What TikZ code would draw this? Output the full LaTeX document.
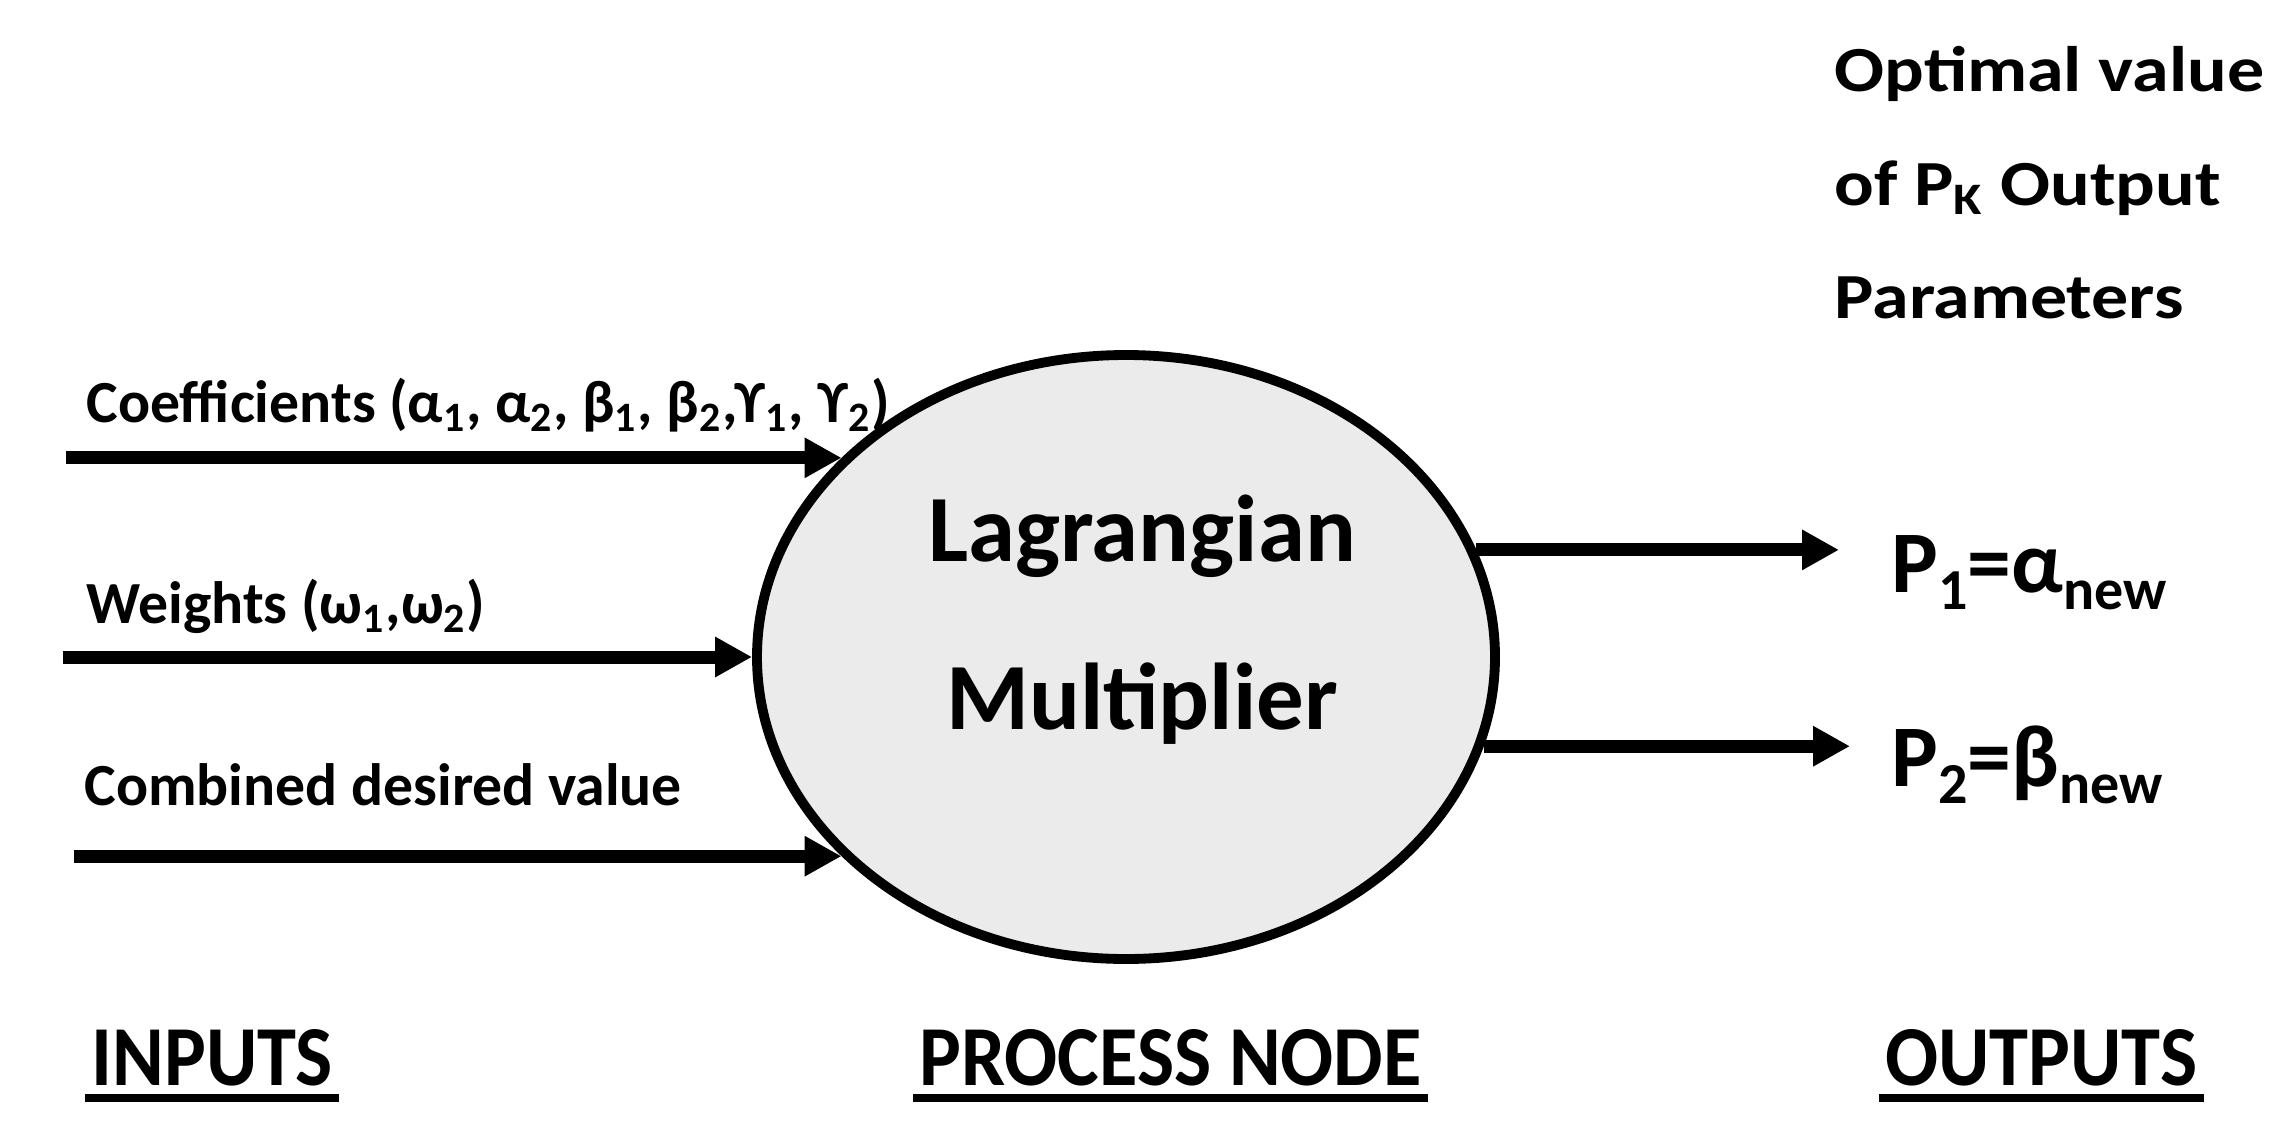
\documentclass[tikz,border=0pt]{standalone}
\usepackage{fontspec}
\setmainfont{Carlito}
\newfontfamily\widefont{Carlito}[FakeStretch=1.15]
\newfontfamily\narrowfont{Carlito}[FakeStretch=0.92]
\usepackage{tikz}
\usetikzlibrary{arrows.meta,shapes.geometric}

\definecolor{procgray}{HTML}{EBEBEB}
\newcommand{\lo}[1]{\textsubscript{#1}}
\newcommand{\losub}[1]{\raisebox{-0.2em}{\scalebox{0.66}{#1}}}

\begin{document}
\begin{tikzpicture}[line width=3.7pt,
  arr/.style={-{Triangle[length=0.37cm,width=0.38cm]}},
  inlabel/.style={anchor=base west,inner sep=0pt,font=\bfseries\fontsize{17}{20}\selectfont},
  outlabel/.style={anchor=base west,inner sep=0pt,font=\bfseries\fontsize{25}{30}\selectfont},
  head/.style={anchor=base west,inner sep=0pt,font=\narrowfont\bfseries\fontsize{24.3}{28}\selectfont},
  uline/.style={line width=2pt},
  process/.style={ellipse,draw,line width=2.8pt,fill=procgray,minimum width=7.38cm,minimum height=6.04cm,inner sep=0pt}]
\useasboundingbox (0,0) rectangle (22.8,11.39);

\node[process] (proc) at (11.26,4.82) {};
\node[align=center,inner sep=0pt,font=\bfseries\fontsize{27}{47.8}\selectfont] (ptext) at (11.42,5.19) {Lagrangian\\Multiplier};

% inputs
\coordinate (cin1) at (0.66,6.79);
\coordinate (cin2) at (0.63,4.86);
\coordinate (cin3) at (0.74,2.86);
\node[inlabel] (coef) at (0.80,7.17) {Coefficients (α\lo{1}, α\lo{2}, β\lo{1}, β\lo{2},ϒ\lo{1}, ϒ\lo{2})};
\node[inlabel] (wts) at (0.80,5.16) {Weights (ω\lo{1},ω\lo{2})};
\node[inlabel] (comb) at (0.78,3.34) {Combined desired value};
\draw[arr] (cin1 |- proc.145) -- (proc.145);
\draw[arr] (cin2 |- proc.180) -- (proc.180);
\draw[arr] (cin3 |- proc.215) -- (proc.215);

% outputs
\node[align=left,anchor=north west,inner sep=0pt,font=\widefont\bfseries\fontsize{18.3}{32.3}\selectfont] (opt) at (18.28,10.99) {Optimal value\\of P\lo{K} Output\\Parameters};
\coordinate (cout1) at (18.39,5.86);
\coordinate (cout2) at (18.50,3.92);
\draw[arr] (proc.17) -- (proc.17 -| cout1);
\draw[arr] (proc.-14) -- (proc.-14 -| cout2);
\node[outlabel] (p1) at (18.85,5.47) {P\losub{1}=α\losub{new}};
\node[outlabel] (p2) at (18.85,3.53) {P\losub{2}=β\losub{new}};

% headings
\node[head] (inp) at (0.85,0.54) {INPUTS};
\node[head] (pn) at (9.13,0.54) {PROCESS NODE};
\node[head] (outp) at (18.79,0.54) {OUTPUTS};
\foreach \h in {inp,pn,outp}
  \draw[uline] ([yshift=-0.13cm]\h.base west) -- ([yshift=-0.13cm]\h.base east);

\end{tikzpicture}
\end{document}
